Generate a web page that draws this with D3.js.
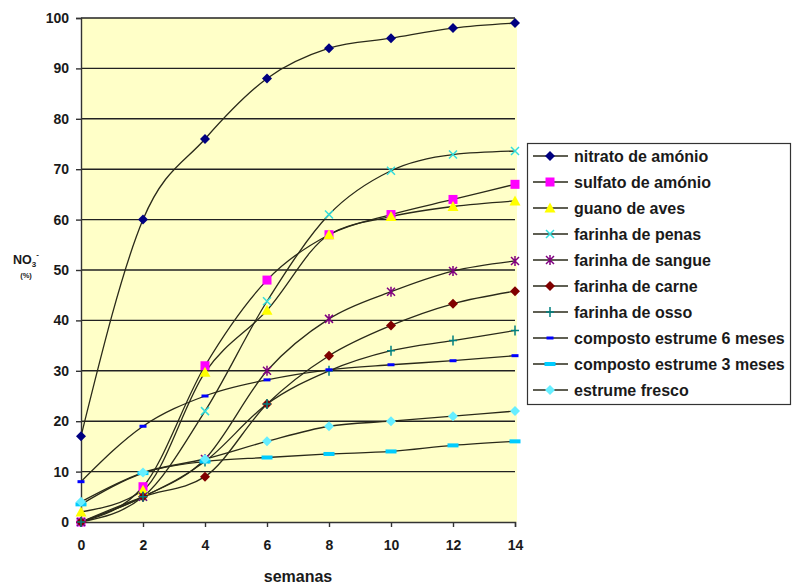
<!DOCTYPE html>
<html>
<head>
<meta charset="utf-8">
<script src="https://cdn.jsdelivr.net/npm/d3@7"></script>
<style>
  body { margin: 0; background: #fff; }
  text { font-family: "Liberation Sans", Arial, sans-serif; font-weight: bold; fill: #1a1a1a; }
</style>
</head>
<body>
<div id="chart"></div>
<script>
// semanas
const weeks = [0, 2, 4, 6, 8, 10, 12, 14];
const yTicks = [0, 10, 20, 30, 40, 50, 60, 70, 80, 90, 100];

const seriesNames = [
    "nitrato de amónio", "sulfato de amónio", "guano de aves", "farinha de penas",
    "farinha de sangue", "farinha de carne", "farinha de osso",
    "composto estrume 6 meses", "composto estrume 3 meses", "estrume fresco"
];
const nitrato = [17, 60, 76, 88, 94, 96, 98, 99];
const sulfato = [0, 7, 31, 48, 57, 61, 64, 67];
const guano = [2, 6.3, 29.7, 42, 57, 60.6, 62.6, 63.7];
const penas = [0, 5, 22, 43.8, 61, 69.7, 72.9, 73.6];
const sangue = [0, 5, 12.5, 30, 40.3, 45.7, 49.8, 51.8];
const carne = [0, 5, 9, 23.4, 33, 39, 43.3, 45.8];
const osso = [0, 5, 12, 23.4, 30, 34, 36, 38];
const composto6 = [8, 19, 25, 28.2, 30.2, 31.2, 32, 33];
const composto3 = [3.5, 9.7, 12, 12.8, 13.5, 14, 15.2, 16];
const estrume = [4, 9.8, 12.5, 16, 19, 20, 21, 22];

const allValues = [nitrato, sulfato, guano, penas, sangue, carne, osso, composto6, composto3, estrume];
const markerTypes = ["diamond", "square", "triangle", "x", "star", "diamond", "plus", "dash", "wdash", "diamond"];
const markerColors = ["#000080", "#ff00ff", "#ffff00", "#33dddd", "#800080", "#800000", "#008080", "#0000ff", "#00ccff", "#66eeff"];

const width = 792, height = 585;
const margin = { top: 18, right: 277, bottom: 63, left: 81 };
const plotW = width - margin.left - margin.right;
const plotH = height - margin.top - margin.bottom;

const svg = d3.select("#chart").append("svg")
    .attr("width", width)
    .attr("height", height);

const g = svg.append("g")
    .attr("transform", `translate(${margin.left},${margin.top})`);

const x = d3.scaleLinear().domain([0, 14]).range([0, plotW]);
const y = d3.scaleLinear().domain([0, 100]).range([plotH, 0]);

// plot area
g.append("rect")
    .attr("x", 0).attr("y", 0)
    .attr("width", plotW + 2).attr("height", plotH)
    .attr("fill", "#ffffc8");

// gridlines
g.selectAll(".grid")
    .data(yTicks.filter(d => d > 0))
    .enter().append("line")
    .attr("x1", 0).attr("x2", plotW)
    .attr("y1", d => y(d)).attr("y2", d => y(d))
    .attr("stroke", "#222").attr("stroke-width", 1.4);

// axes
const yAxis = g.append("g")
    .call(d3.axisLeft(y).tickValues(yTicks).tickSize(5).tickPadding(7));
const xAxis = g.append("g")
    .attr("transform", `translate(0,${plotH})`)
    .call(d3.axisBottom(x).tickValues(weeks).tickSize(5).tickPadding(13));
[xAxis, yAxis].forEach(a => {
    a.selectAll("path, line").attr("stroke", "#333").attr("stroke-width", 1.4);
    a.selectAll("text").style("font-size", "14px").style("font-weight", "bold")
        .style("font-family", "'Liberation Sans', Arial, sans-serif").attr("fill", "#1a1a1a");
});

// axis titles
svg.append("text")
    .attr("x", margin.left + plotW / 2).attr("y", 582)
    .attr("text-anchor", "middle").style("font-size", "16px")
    .text("semanas");

const yt = svg.append("text").attr("x", 13).attr("y", 264).style("font-size", "12.5px");
yt.append("tspan").text("NO");
yt.append("tspan").attr("dy", 3).style("font-size", "8px").text("3");
yt.append("tspan").attr("dy", -10).style("font-size", "8px").text("-");
svg.append("text").attr("x", 26).attr("y", 278).attr("text-anchor", "middle")
    .style("font-size", "7.5px").text("(%)");

// markers
function drawMarker(sel, type, color) {
    if (type === "diamond") {
        sel.append("path").attr("d", "M0,-5L5,0L0,5L-5,0Z").attr("fill", color);
    } else if (type === "square") {
        sel.append("rect").attr("x", -4.5).attr("y", -4.5).attr("width", 9).attr("height", 9).attr("fill", color);
    } else if (type === "triangle") {
        sel.append("path").attr("d", "M0,-5.5L5.5,4.5L-5.5,4.5Z").attr("fill", color);
    } else if (type === "x") {
        sel.append("path").attr("d", "M-4,-4L4,4M-4,4L4,-4").attr("stroke", color).attr("stroke-width", 1.5);
    } else if (type === "star") {
        sel.append("path").attr("d", "M-4,-4L4,4M-4,4L4,-4M0,-5L0,5").attr("stroke", color).attr("stroke-width", 1.5);
    } else if (type === "plus") {
        sel.append("path").attr("d", "M-4,0L4,0M0,-5L0,5").attr("stroke", color).attr("stroke-width", 1.5);
    } else if (type === "dash") {
        sel.append("rect").attr("x", -3.5).attr("y", -1.5).attr("width", 7).attr("height", 3).attr("fill", color);
    } else if (type === "wdash") {
        sel.append("rect").attr("x", -5.5).attr("y", -2).attr("width", 11).attr("height", 4).attr("fill", color);
    }
}

const line = d3.line()
    .x((d, i) => x(weeks[i]))
    .y(d => y(d))
    .curve(d3.curveMonotoneX);

allValues.forEach((vals, s) => {
    g.append("path")
        .datum(vals)
        .attr("fill", "none")
        .attr("stroke", "#2a2a1a")
        .attr("stroke-width", 1.3)
        .attr("d", line);
});

allValues.forEach((vals, s) => {
    vals.forEach((v, i) => {
        const m = g.append("g").attr("transform", `translate(${x(weeks[i])},${y(v)})`);
        drawMarker(m, markerTypes[s], markerColors[s]);
    });
});

// legend
const lg = svg.append("g").attr("transform", "translate(527,143)");
lg.append("rect")
    .attr("x", 0.5).attr("y", 0.5).attr("width", 263).attr("height", 261)
    .attr("fill", "#fff").attr("stroke", "#333").attr("stroke-width", 1.2);
seriesNames.forEach((name, i) => {
    const row = lg.append("g").attr("transform", `translate(0,${13 + i * 26})`);
    row.append("line").attr("x1", 6).attr("x2", 41).attr("y1", 0).attr("y2", 0)
        .attr("stroke", "#2a2a1a").attr("stroke-width", 1.3);
    const m = row.append("g").attr("transform", "translate(23,0)");
    drawMarker(m, markerTypes[i], markerColors[i]);
    row.append("text").attr("x", 47).attr("y", 5.5).style("font-size", "16px").text(name);
});
</script>
</body>
</html>
